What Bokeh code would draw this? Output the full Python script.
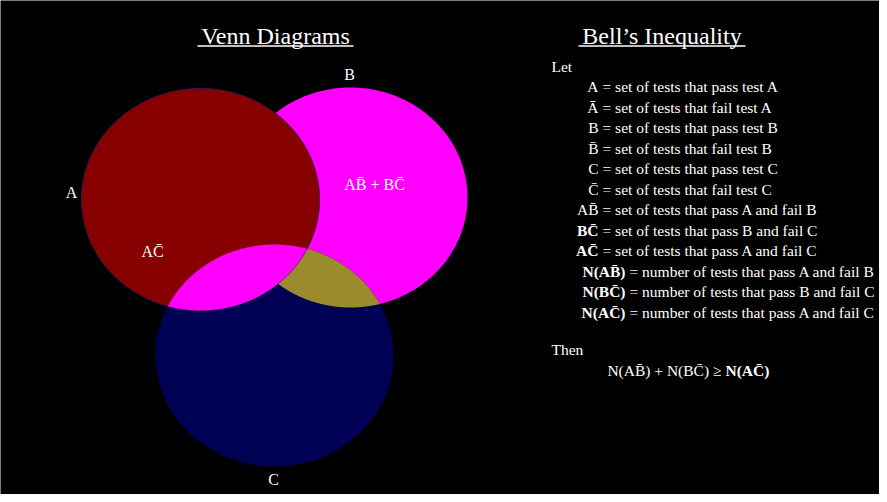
import numpy as np
from bokeh.plotting import figure
from bokeh.models import Range1d
from bokeh.core.properties import value
from bokeh.embed import file_html
from bokeh.resources import INLINE

M = "\u0304"  # combining macron (overbar)

# ---- data ----
sets = ["A", "B", "C"]
venn_title = "Venn Diagrams"
bell_title = "Bell\u2019s Inequality"
region_labels = ["A" + "C" + M, "A" + "B" + M + " + " + "B" + "C" + M]
let_word = "Let"
then_word = "Then"
def_left = ["A", "A" + M, "B", "B" + M, "C", "C" + M,
            "AB" + M, "BC" + M, "AC" + M]
def_right = ["= set of tests that pass test A", "= set of tests that fail test A",
             "= set of tests that pass test B", "= set of tests that fail test B",
             "= set of tests that pass test C", "= set of tests that fail test C",
             "= set of tests that pass A and fail B",
             "= set of tests that pass B and fail C",
             "= set of tests that pass A and fail C"]
def_bold = [False] * 7 + [True, True]
num_left = ["N(AB" + M + ")", "N(BC" + M + ")", "N(AC" + M + ")"]
num_right = ["= number of tests that pass A and fail B",
             "= number of tests that pass B and fail C",
             "= number of tests that pass A and fail C"]
ineq_left = "N(AB" + M + ") + N(BC" + M + ") \u2265"
ineq_right = "N(AC" + M + ")"

# ---- layout (pixel-like data units, y downward) ----
W, H = 879, 494
geom = {"A": (200, 199, 119, 111), "B": (350, 197, 117, 110), "C": (274, 355, 119, 111)}

def ell(cx, cy, rx, ry, n=400):
    t = np.linspace(0, 2 * np.pi, n, endpoint=False)
    return cx + rx * np.cos(t), cy + ry * np.sin(t)

def inside(px, py, g):
    cx, cy, rx, ry = g
    return ((px - cx) / rx) ** 2 + ((py - cy) / ry) ** 2 <= 1.0

def intersect(g1, g2):
    x1, y1 = ell(*g1, n=2000)
    x2, y2 = ell(*g2, n=2000)
    m1 = inside(x1, y1, g2)
    m2 = inside(x2, y2, g1)
    xs = np.concatenate([x1[m1], x2[m2]])
    ys = np.concatenate([y1[m1], y2[m2]])
    cx, cy = xs.mean(), ys.mean()
    order = np.argsort(np.arctan2(ys - cy, xs - cx))
    return xs[order], ys[order]

p = figure(width=W, height=H, x_range=Range1d(0, W), y_range=Range1d(H, 0),
           output_backend="svg", toolbar_location=None, min_border=0)
p.axis.visible = False
p.grid.visible = False
p.outline_line_color = None
p.background_fill_color = "black"
p.border_fill_color = "black"

# B (magenta)
bx, by = ell(*geom["B"])
p.patch(bx, by, fill_color="#ff00ff", line_color=None)
# C (navy)
cx_, cy_ = ell(*geom["C"])
p.patch(cx_, cy_, fill_color="#000055", line_color=None)
# B ∩ C (olive)
ox, oy = intersect(geom["B"], geom["C"])
p.patch(ox, oy, fill_color="#9c8b2c", line_color=None)
# A (dark red checker, approximated by a solid dark red)
ax, ay = ell(*geom["A"])
p.patch(ax, ay, fill_color="#860000", line_color="#3a1650", line_width=1)
# A ∩ C (magenta)
mx, my = intersect(geom["A"], geom["C"])
p.patch(mx, my, fill_color="#ff00ff", line_color=None)

SERIF = value("Liberation Serif")
FS = "15.5px"

# titles
p.text(x=[275, 661.5], y=[35.5, 35.5], text=[venn_title, bell_title], text_font=SERIF,
       text_font_size="24px", text_color="white", text_align="center",
       text_baseline="middle")
p.segment(x0=[197, 578], y0=[45.5, 45.5], x1=[353, 745], y1=[45.5, 45.5],
          line_color="white", line_width=1.3)

# venn labels
p.text(x=[71, 349, 273], y=[192, 74, 479], text=sets, text_font=SERIF,
       text_font_size="16px", text_color="white", text_align="center",
       text_baseline="middle")
p.text(x=[152, 374], y=[251, 184], text=region_labels, text_font=SERIF,
       text_font_size="16px", text_color="white", text_align="center",
       text_baseline="middle")

# Bell's inequality text
p.text(x=[551, 551], y=[66, 349], text=[let_word, then_word], text_font=SERIF,
       text_font_size=FS, text_color="white", text_baseline="middle")

base0, step = 86, 20.5
ys_def = [base0 + i * step for i in range(len(def_left))]
for yy, lt, rt, b in zip(ys_def, def_left, def_right, def_bold):
    p.text(x=[598], y=[yy], text=[lt], text_font=SERIF, text_font_size=FS,
           text_color="white", text_align="right", text_baseline="middle",
           text_font_style="bold" if b else "normal")
    p.text(x=[602], y=[yy], text=[rt], text_font=SERIF, text_font_size=FS,
           text_color="white", text_align="left", text_baseline="middle")
ys_num = [base0 + (len(def_left) + i) * step for i in range(len(num_left))]
for yy, lt, rt in zip(ys_num, num_left, num_right):
    p.text(x=[625], y=[yy], text=[lt], text_font=SERIF, text_font_size=FS,
           text_color="white", text_align="right", text_baseline="middle",
           text_font_style="bold")
    p.text(x=[629], y=[yy], text=[rt], text_font=SERIF, text_font_size=FS,
           text_color="white", text_align="left", text_baseline="middle")

p.text(x=[721], y=[370], text=[ineq_left], text_font=SERIF, text_font_size=FS,
       text_color="white", text_align="right", text_baseline="middle")
p.text(x=[725], y=[370], text=[ineq_right], text_font=SERIF, text_font_size=FS,
       text_color="white", text_align="left", text_baseline="middle",
       text_font_style="bold")

open("out.html", "w").write(file_html(p, INLINE))
